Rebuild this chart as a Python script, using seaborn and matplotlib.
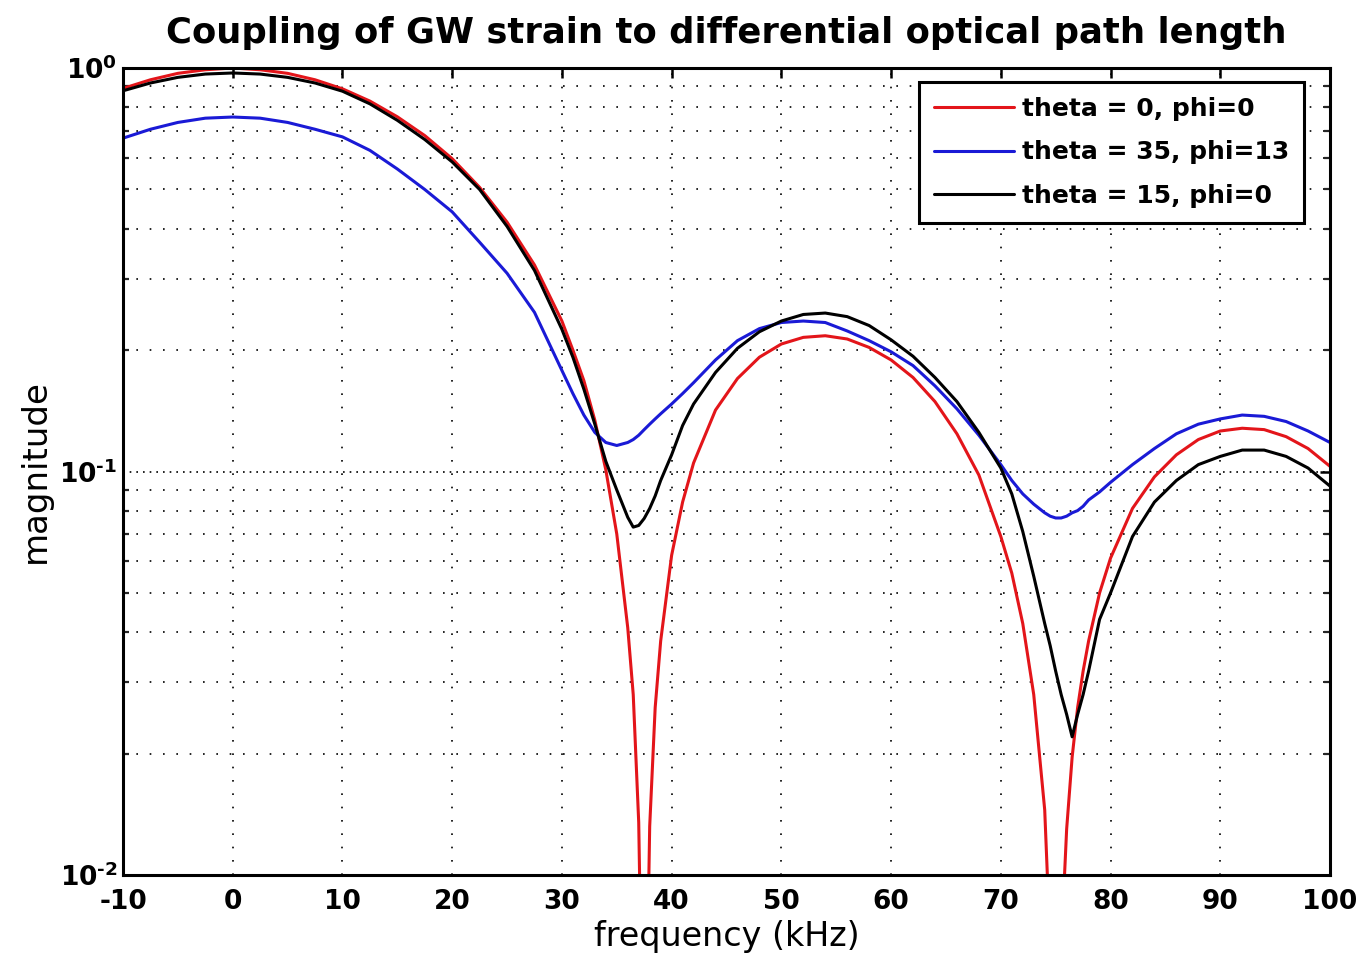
import matplotlib
matplotlib.use("Agg")
import matplotlib.pyplot as plt
import pandas as pd
import seaborn as sns
from matplotlib.ticker import FixedLocator, FixedFormatter, LogLocator, NullFormatter

# Frequency samples (kHz), denser around the response notches
freq_khz = [-10, -7.5, -5, -2.5, 0, 2.5, 5, 7.5, 10, 12.5,
            15, 17.5, 20, 22.5, 25, 27.5, 30, 31, 32, 33,
            34, 35, 36, 36.5, 37, 37.5, 38, 38.5, 39, 40,
            41, 42, 44, 46, 48, 50, 52, 54, 56, 58,
            60, 62, 64, 66, 68, 70, 71, 72, 73, 74,
            74.5, 75, 75.5, 76, 76.5, 77, 77.5, 78, 79, 80,
            82, 84, 86, 88, 90, 92, 94, 96, 98, 100]

# |coupling| for theta = 0, phi = 0
mag_t0_p0 = [0.89, 0.935, 0.97, 0.99, 1.0, 0.99, 0.97, 0.935, 0.888, 0.828,
             0.757, 0.68, 0.596, 0.506, 0.415, 0.325, 0.236, 0.200, 0.168, 0.134,
             0.101, 0.070, 0.041, 0.028, 0.0135, 0.002, 0.0132, 0.026, 0.038, 0.062,
             0.084, 0.105, 0.142, 0.170, 0.192, 0.207, 0.215, 0.217, 0.213, 0.203,
             0.189, 0.171, 0.149, 0.124, 0.098, 0.069, 0.056, 0.042, 0.028, 0.0145,
             0.0067, 0.002, 0.0066, 0.013, 0.0196, 0.026, 0.032, 0.038, 0.050, 0.061,
             0.081, 0.097, 0.110, 0.120, 0.126, 0.128, 0.127, 0.122, 0.114, 0.103]

# |coupling| for theta = 35, phi = 13
mag_t35_p13 = [0.670, 0.705, 0.733, 0.751, 0.756, 0.751, 0.733, 0.705, 0.675, 0.625,
               0.562, 0.50, 0.44, 0.37, 0.31, 0.248, 0.178, 0.156, 0.138, 0.125,
               0.118, 0.116, 0.118, 0.120, 0.123, 0.127, 0.131, 0.135, 0.139, 0.147,
               0.156, 0.166, 0.189, 0.211, 0.226, 0.234, 0.236, 0.234, 0.223, 0.211,
               0.198, 0.183, 0.163, 0.143, 0.123, 0.104, 0.095, 0.088, 0.083, 0.079,
               0.0775, 0.0767, 0.0767, 0.0775, 0.079, 0.080, 0.082, 0.085, 0.089, 0.094,
               0.104, 0.114, 0.124, 0.131, 0.135, 0.138, 0.137, 0.133, 0.126, 0.118]

# |coupling| for theta = 15, phi = 0
mag_t15_p0 = [0.878, 0.918, 0.948, 0.966, 0.972, 0.966, 0.948, 0.918, 0.876, 0.815,
              0.742, 0.665, 0.585, 0.50, 0.405, 0.315, 0.225, 0.192, 0.160, 0.131,
              0.106, 0.090, 0.077, 0.0728, 0.0735, 0.0765, 0.081, 0.087, 0.095, 0.110,
              0.130, 0.147, 0.176, 0.202, 0.222, 0.236, 0.245, 0.247, 0.242, 0.230,
              0.212, 0.193, 0.171, 0.149, 0.125, 0.102, 0.088, 0.071, 0.055, 0.042,
              0.037, 0.032, 0.028, 0.025, 0.022, 0.025, 0.028, 0.032, 0.043, 0.050,
              0.069, 0.084, 0.095, 0.104, 0.109, 0.113, 0.113, 0.109, 0.102, 0.092]

series_labels = ["theta = 0, phi=0", "theta = 35, phi=13", "theta = 15, phi=0"]
series_colors = ["#e3151a", "#1a1ad6", "#000000"]

x_ticks = list(range(-10, 101, 10))
x_tick_labels = [str(v) for v in x_ticks]
y_ticks = [1e-2, 1e-1, 1e0]
# exponents written with a short hyphen (U+2010)
y_tick_labels = ["$\\mathbf{10^{\u20102}}$", "$\\mathbf{10^{\u20101}}$", r"$\mathbf{10^{0}}$"]

sns.set_theme(style="white")
plt.rcParams["font.family"] = ["DejaVu Sans"]
plt.rcParams["text.color"] = "black"
plt.rcParams["mathtext.fontset"] = "custom"
plt.rcParams["mathtext.rm"] = "DejaVu Sans:bold"
plt.rcParams["mathtext.bf"] = "DejaVu Sans:bold"
plt.rcParams["mathtext.it"] = "DejaVu Sans:bold"

frames = []
for lab, vals in zip(series_labels, [mag_t0_p0, mag_t35_p13, mag_t15_p0]):
    frames.append(pd.DataFrame({"freq": freq_khz, "mag": vals, "series": lab}))
df = pd.concat(frames, ignore_index=True)

fig = plt.figure(figsize=(13.64, 9.64), dpi=100)
fig.patch.set_facecolor("white")
ax = fig.add_axes([123 / 1364, 89 / 964, 1207 / 1364, 807 / 964])

sns.lineplot(data=df, x="freq", y="mag", hue="series", hue_order=series_labels,
             palette=series_colors, estimator=None, sort=False,
             linewidth=2.2, ax=ax)

ax.set_yscale("log")
ax.set_xlim(-10, 100)
ax.set_ylim(1e-2, 1)

ax.xaxis.set_major_locator(FixedLocator(x_ticks))
ax.xaxis.set_major_formatter(FixedFormatter(x_tick_labels))
ax.yaxis.set_major_locator(FixedLocator(y_ticks))
ax.yaxis.set_major_formatter(FixedFormatter(y_tick_labels))
ax.yaxis.set_minor_locator(LogLocator(base=10, subs=range(2, 10)))
ax.yaxis.set_minor_formatter(NullFormatter())

for lbl in ax.get_xticklabels():
    lbl.set_fontweight("bold")
ax.tick_params(axis="both", which="major", direction="in", length=7.5, width=1.8,
               top=True, right=True, labelsize=19, color="black", labelcolor="black")
ax.tick_params(axis="x", which="major", pad=10)
ax.tick_params(axis="y", which="major", pad=4)
ax.tick_params(axis="y", which="minor", direction="in", length=4.5, width=1.6,
               left=True, right=True)

# Dotted grid: sparse dots for x and minor y, denser dots for major y
ax.xaxis.grid(True, which="major", color="black", linestyle=(0, (1, 7)), linewidth=1.2)
ax.yaxis.grid(True, which="major", color="black", linestyle=(0, (1, 3)), linewidth=1.2)
ax.yaxis.grid(True, which="minor", color="black", linestyle=(0, (1, 7)), linewidth=1.2)
ax.set_axisbelow(True)

for sp in ax.spines.values():
    sp.set_visible(True)
    sp.set_color("black")
    sp.set_linewidth(2.2)

ax.set_title("Coupling of GW strain to differential optical path length",
             fontsize=25.5, fontweight="bold", pad=18, color="black")
ax.set_xlabel("frequency (kHz)", fontsize=24, labelpad=4, color="black")
ax.set_ylabel("magnitude", fontsize=24.5, labelpad=5, color="black")

leg = ax.legend(loc="upper right", bbox_to_anchor=(0.9785, 0.9827), borderaxespad=0,
                frameon=True, fancybox=False, framealpha=1, edgecolor="black",
                prop={"weight": "bold", "size": 18}, handlelength=3.2,
                handletextpad=0.3, labelspacing=0.78, borderpad=0.6, title=None)
leg.get_frame().set_linewidth(2.2)
for line in leg.get_lines():
    line.set_linewidth(2.2)
for txt in leg.get_texts():
    txt.set_color("black")

fig.savefig("out.png", dpi=100, facecolor="white")
